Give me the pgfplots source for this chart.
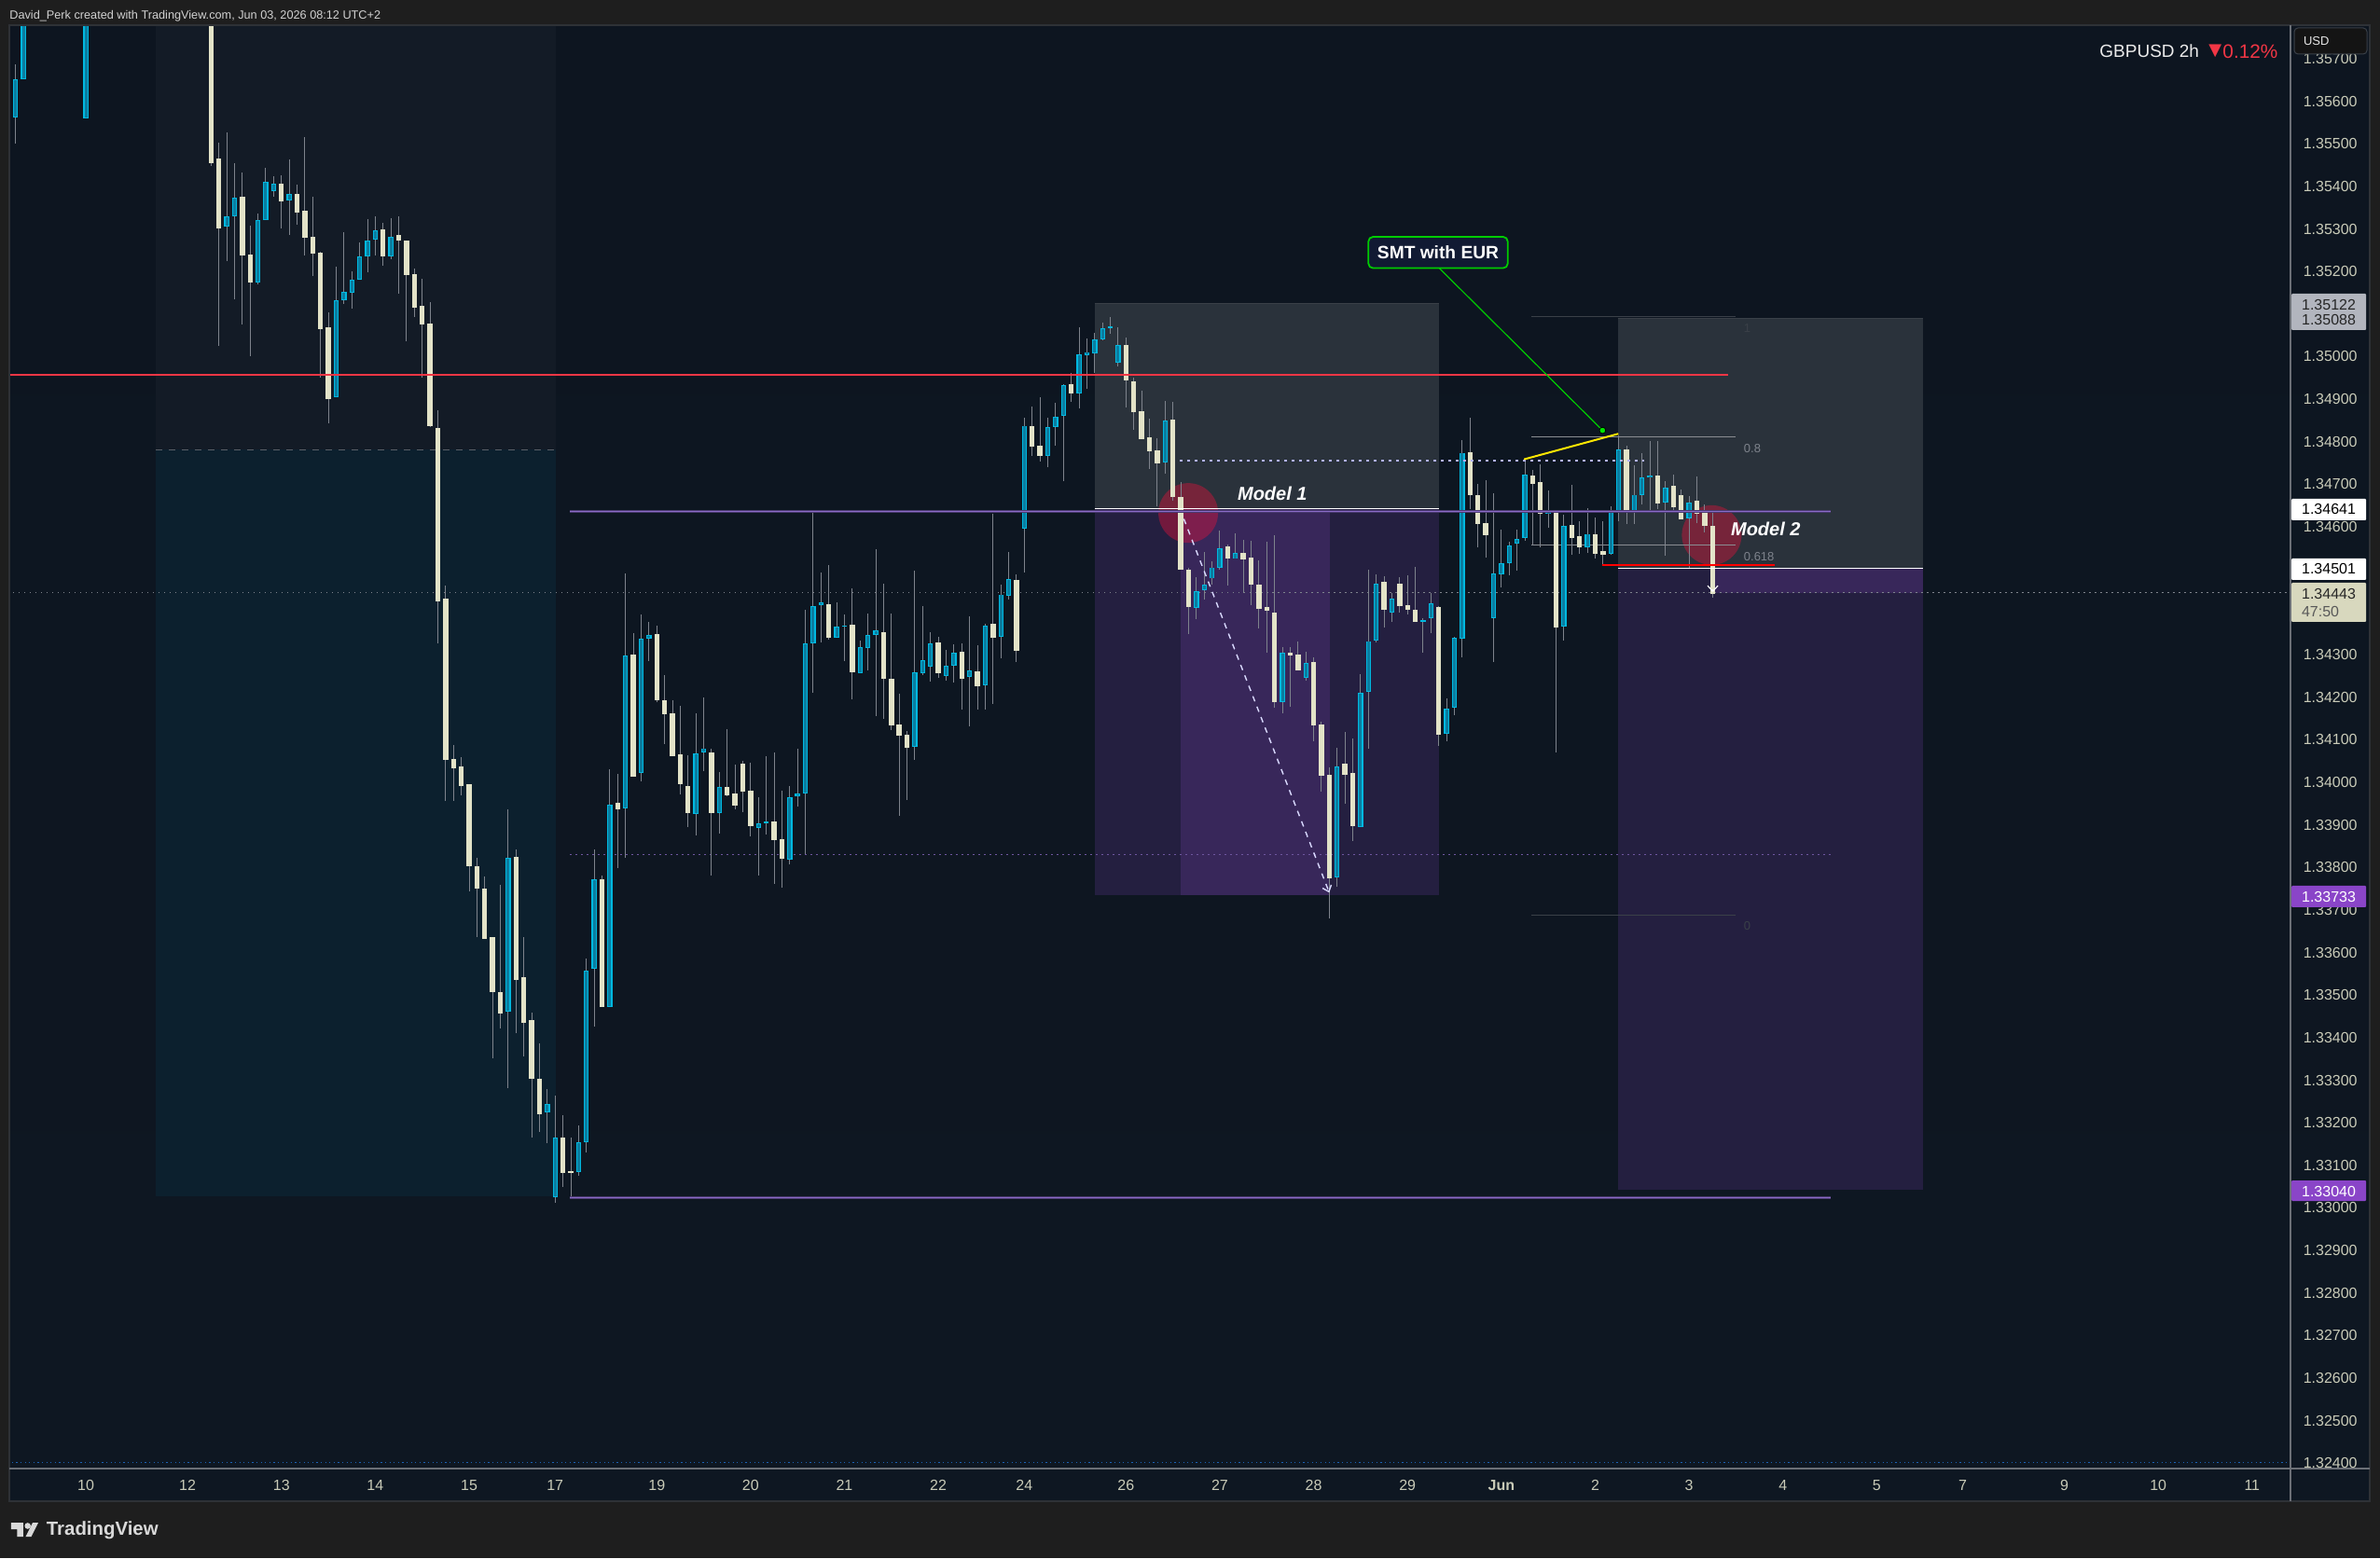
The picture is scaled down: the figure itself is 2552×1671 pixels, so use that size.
\documentclass[border=0pt]{standalone}
\usepackage{fontspec}
\setmainfont{Liberation Sans}
\newfontfamily\djv{DejaVu Sans}
\usepackage{pgfplots}
\usepackage{pgfplotstable}
\pgfplotsset{compat=1.18}
\usetikzlibrary{arrows.meta}
\definecolor{outer}{HTML}{1E1E1E}
\definecolor{bgtop}{HTML}{0D1520}
\definecolor{bgbot}{HTML}{0E1722}
\definecolor{tint}{HTML}{131B26}
\definecolor{teal}{HTML}{0C202E}
\definecolor{grayz}{HTML}{2A323B}
\definecolor{purpd}{HTML}{241F40}
\definecolor{purpb}{HTML}{38275A}
\definecolor{cream}{HTML}{E3E3C8}
\definecolor{cyanb}{HTML}{00B8E0}
\definecolor{cyanf}{HTML}{0A7DA0}
\definecolor{wick}{HTML}{7E838C}
\definecolor{lin}{HTML}{8A6BC7}
\definecolor{linh}{HTML}{4A3A70}
\definecolor{redl}{HTML}{F23645}
\definecolor{tick}{HTML}{C9CBB8}
\definecolor{axl}{HTML}{6B6F76}
\definecolor{tagp}{HTML}{8A45C8}
\definecolor{circ}{HTML}{E8113A}
\definecolor{fibdim}{HTML}{3A4048}
\definecolor{fibmid}{HTML}{8A8D92}
\definecolor{dash}{HTML}{5A6068}
\definecolor{smt}{HTML}{111A33}
\definecolor{smtg}{HTML}{00CC00}
\definecolor{framec}{HTML}{2E3136}
\pgfplotstableread{
i top bot high low
0 1.35560 1.35507 1.35560 1.35507
1 1.35651 1.35561 1.35685 1.35499
2 1.35900 1.35651 1.35950 1.35651
3 1.36000 1.35900 1.36000 1.35775
10 1.35900 1.35559 1.35950 1.35559
28 1.35329 1.35304 1.35527 1.35223
29 1.35373 1.35328 1.35453 1.35133
32 1.35321 1.35173 1.35334 1.35168
33 1.35408 1.35320 1.35442 1.35320
34 1.35404 1.35388 1.35422 1.35374
36 1.35380 1.35366 1.35461 1.35285
42 1.35132 1.34904 1.35210 1.34904
43 1.35150 1.35131 1.35291 1.35123
44 1.35180 1.35149 1.35199 1.35113
45 1.35235 1.35180 1.35269 1.35180
46 1.35272 1.35234 1.35321 1.35196
47 1.35296 1.35274 1.35328 1.35236
49 1.35281 1.35234 1.35323 1.35228
64 1.33822 1.33459 1.33935 1.33280
69 1.33243 1.33224 1.33279 1.33150
70 1.33164 1.33024 1.33262 1.33011
73 1.33153 1.33083 1.33192 1.33075
74 1.33557 1.33154 1.33586 1.33131
75 1.33771 1.33561 1.33843 1.33426
77 1.33948 1.33471 1.34030 1.33471
79 1.34297 1.33938 1.34490 1.33822
81 1.34335 1.34020 1.34393 1.34002
82 1.34345 1.34335 1.34375 1.34283
88 1.34068 1.33924 1.34160 1.33873
89 1.34079 1.34069 1.34198 1.34024
91 1.33987 1.33927 1.34022 1.33877
96 1.33903 1.33892 1.33964 1.33781
97 1.33907 1.33903 1.34060 1.33877
100 1.33963 1.33817 1.33991 1.33806
101 1.33973 1.33966 1.34079 1.33943
102 1.34325 1.33973 1.34403 1.33829
103 1.34413 1.34325 1.34635 1.34209
104 1.34422 1.34415 1.34493 1.34327
106 1.34365 1.34339 1.34421 1.34339
107 1.34368 1.34366 1.34392 1.34283
109 1.34315 1.34255 1.34333 1.34255
110 1.34346 1.34314 1.34395 1.34261
111 1.34357 1.34345 1.34546 1.34154
116 1.34258 1.34082 1.34495 1.34051
117 1.34287 1.34255 1.34414 1.34252
118 1.34326 1.34271 1.34351 1.34235
120 1.34274 1.34249 1.34309 1.34237
121 1.34304 1.34273 1.34322 1.34233
123 1.34260 1.34246 1.34388 1.34130
125 1.34366 1.34227 1.34371 1.34169
127 1.34440 1.34341 1.34463 1.34290
128 1.34477 1.34437 1.34539 1.34428
130 1.34837 1.34595 1.34855 1.34491
133 1.34834 1.34766 1.34855 1.34739
134 1.34858 1.34833 1.34890 1.34789
135 1.34933 1.34860 1.34936 1.34708
137 1.35005 1.34913 1.35068 1.34876
138 1.35010 1.35002 1.35043 1.34923
139 1.35040 1.35007 1.35056 1.34960
140 1.35067 1.35040 1.35078 1.35037
141 1.35069 1.35067 1.35091 1.35052
142 1.35027 1.34985 1.35068 1.34976
148 1.34849 1.34752 1.34894 1.34723
152 1.34448 1.34408 1.34481 1.34382
153 1.34464 1.34450 1.34539 1.34428
154 1.34503 1.34477 1.34518 1.34463
155 1.34549 1.34503 1.34590 1.34498
157 1.34539 1.34525 1.34585 1.34525
163 1.34304 1.34188 1.34316 1.34162
166 1.34280 1.34245 1.34307 1.34237
170 1.34037 1.33776 1.34080 1.33753
173 1.34208 1.33893 1.34253 1.33893
174 1.34330 1.34210 1.34498 1.34078
175 1.34466 1.34331 1.34486 1.34326
177 1.34431 1.34398 1.34442 1.34376
181 1.34381 1.34378 1.34386 1.34305
182 1.34420 1.34385 1.34444 1.34351
184 1.34173 1.34113 1.34195 1.34095
185 1.34339 1.34174 1.34340 1.34157
186 1.34773 1.34336 1.34804 1.34292
190 1.34490 1.34384 1.34679 1.34281
191 1.34514 1.34489 1.34592 1.34456
192 1.34556 1.34514 1.34563 1.34484
193 1.34571 1.34560 1.34592 1.34495
194 1.34723 1.34573 1.34755 1.34566
197 1.34635 1.34630 1.34684 1.34598
199 1.34600 1.34364 1.34626 1.34332
202 1.34582 1.34550 1.34642 1.34537
205 1.34639 1.34535 1.34647 1.34533
206 1.34782 1.34636 1.34815 1.34612
208 1.34674 1.34632 1.34743 1.34605
209 1.34716 1.34674 1.34774 1.34653
210 1.34720 1.34715 1.34802 1.34636
212 1.34692 1.34656 1.34706 1.34531
215 1.34657 1.34619 1.34673 1.34504
}\upbars
\pgfplotstableread{
i top bot high low
26 1.35950 1.35453 1.36000 1.35447
27 1.35464 1.35301 1.35500 1.35024
30 1.35374 1.35236 1.35431 1.35074
31 1.35240 1.35173 1.35308 1.35001
35 1.35405 1.35365 1.35426 1.35301
37 1.35382 1.35339 1.35402 1.35308
38 1.35341 1.35277 1.35514 1.35236
39 1.35280 1.35242 1.35374 1.35188
40 1.35244 1.35065 1.35244 1.34950
41 1.35067 1.34898 1.35104 1.34842
48 1.35297 1.35234 1.35312 1.35212
50 1.35286 1.35273 1.35328 1.35146
51 1.35273 1.35192 1.35273 1.35036
52 1.35194 1.35115 1.35207 1.35093
53 1.35118 1.35074 1.35183 1.34951
54 1.35076 1.34835 1.35126 1.34833
55 1.34831 1.34425 1.34873 1.34324
56 1.34431 1.34053 1.34461 1.33954
57 1.34053 1.34033 1.34085 1.33954
58 1.34036 1.33991 1.34057 1.33967
59 1.33994 1.33801 1.33994 1.33744
60 1.33803 1.33750 1.33822 1.33635
61 1.33750 1.33632 1.33777 1.33632
62 1.33635 1.33504 1.33635 1.33350
63 1.33504 1.33455 1.33757 1.33420
65 1.33822 1.33534 1.33840 1.33409
66 1.33541 1.33435 1.33636 1.33355
67 1.33441 1.33303 1.33458 1.33164
68 1.33302 1.33219 1.33386 1.33178
71 1.33165 1.33082 1.33216 1.33047
72 1.33084 1.33082 1.33165 1.33021
76 1.33772 1.33472 1.33779 1.33470
78 1.33950 1.33935 1.34018 1.33798
80 1.34299 1.34012 1.34348 1.34012
83 1.34347 1.34191 1.34368 1.34189
84 1.34193 1.34160 1.34250 1.34088
85 1.34160 1.34060 1.34191 1.34060
86 1.34064 1.33994 1.34180 1.33971
87 1.33991 1.33926 1.34061 1.33893
90 1.34068 1.33926 1.34077 1.33781
92 1.33989 1.33970 1.34123 1.33967
93 1.33971 1.33943 1.34040 1.33936
94 1.34042 1.33976 1.34050 1.33930
95 1.33978 1.33895 1.34046 1.33873
98 1.33908 1.33864 1.34068 1.33759
99 1.33864 1.33818 1.33978 1.33750
105 1.34417 1.34338 1.34509 1.34335
108 1.34368 1.34257 1.34454 1.34193
112 1.34351 1.34241 1.34465 1.34149
113 1.34241 1.34132 1.34395 1.34121
114 1.34134 1.34108 1.34206 1.33919
115 1.34110 1.34079 1.34119 1.33957
119 1.34327 1.34254 1.34340 1.34243
122 1.34305 1.34243 1.34325 1.34169
124 1.34261 1.34226 1.34322 1.34171
126 1.34371 1.34338 1.34629 1.34182
129 1.34474 1.34309 1.34487 1.34281
131 1.34837 1.34787 1.34883 1.34767
132 1.34789 1.34765 1.34905 1.34754
136 1.34934 1.34912 1.34960 1.34892
143 1.35027 1.34942 1.35045 1.34879
144 1.34941 1.34869 1.34949 1.34827
145 1.34870 1.34806 1.34920 1.34806
146 1.34810 1.34776 1.34853 1.34735
147 1.34779 1.34748 1.34807 1.34647
149 1.34850 1.34669 1.34894 1.34661
150 1.34669 1.34498 1.34704 1.34498
151 1.34498 1.34410 1.34504 1.34349
156 1.34553 1.34524 1.34557 1.34461
158 1.34539 1.34524 1.34568 1.34442
159 1.34526 1.34463 1.34565 1.34414
160 1.34464 1.34407 1.34520 1.34360
161 1.34412 1.34402 1.34563 1.34303
162 1.34397 1.34187 1.34579 1.34174
164 1.34305 1.34298 1.34316 1.34176
165 1.34300 1.34263 1.34331 1.34263
167 1.34281 1.34132 1.34292 1.34095
168 1.34134 1.34013 1.34141 1.33976
169 1.34018 1.33773 1.34035 1.33680
171 1.34042 1.34016 1.34117 1.33948
172 1.34020 1.33895 1.34102 1.33862
176 1.34469 1.34404 1.34484 1.34363
178 1.34467 1.34414 1.34481 1.34397
179 1.34417 1.34406 1.34486 1.34395
180 1.34406 1.34377 1.34506 1.34377
183 1.34412 1.34112 1.34412 1.34085
187 1.34774 1.34673 1.34855 1.34640
188 1.34675 1.34607 1.34701 1.34552
189 1.34609 1.34579 1.34710 1.34528
195 1.34721 1.34701 1.34734 1.34556
196 1.34704 1.34629 1.34747 1.34552
198 1.34633 1.34364 1.34633 1.34069
200 1.34603 1.34572 1.34699 1.34533
201 1.34576 1.34550 1.34612 1.34535
203 1.34583 1.34535 1.34622 1.34524
204 1.34544 1.34535 1.34614 1.34511
207 1.34780 1.34631 1.34789 1.34605
211 1.34719 1.34655 1.34800 1.34642
213 1.34695 1.34644 1.34723 1.34640
214 1.34675 1.34618 1.34686 1.34618
216 1.34660 1.34629 1.34717 1.34609
217 1.34633 1.34601 1.34651 1.34585
218 1.34601 1.34442 1.34638 1.34432
}\dnbars
\newcommand{\zone}[5]{\addplot[fill=#5,draw=none,forget plot] coordinates {(#1,#3)(#2,#3)(#2,#4)(#1,#4)};}
\tikzset{px/.style={x=0.5pt,y=-0.5pt,shift={(-10,-1575.3)}},
 tl/.style={inner sep=0pt,outer sep=0pt,text=tick,font=\fontsize{8}{8}\selectfont}}
\begin{document}
\begin{tikzpicture}
\begin{scope}[px]
\fill[outer] (0,0) rectangle (2552,1671);
\path[use as bounding box] (0,0) rectangle (2552,1671);
\shade[top color=bgtop,bottom color=bgbot] (10,27) rectangle (2541,1610);
\end{scope}
\begin{axis}[at={(0,0)},anchor=south west,scale only axis,
 width=1223.15pt,height=774.15pt,
 xmin=0.204,xmax=291.95,ymin=1.323853,ymax=1.35777,
 axis line style={draw=none},major tick length=0pt,
 tick style={draw=none},
 xtick={10,23,35,47,59,70,83,95,107,119,130,143,155,167,179,191,203,215,227,239,250,263,275,287},
 xticklabels={10,12,13,14,15,17,19,20,21,22,24,26,27,28,29,{\textbf{Jun}},2,3,4,5,7,9,10,11},
 xticklabel style={anchor=center,yshift=-8.85pt,text=tick,font=\fontsize{8}{8}\selectfont},
 ytick={1.324,1.325,1.326,1.327,1.328,1.329,1.33,1.331,1.332,1.333,1.334,1.335,1.336,1.337,1.338,1.339,1.34,1.341,1.342,1.343,1.344,1.345,1.346,1.347,1.348,1.349,1.35,1.351,1.352,1.353,1.354,1.355,1.356,1.357},
 ytick pos=right,yticklabel pos=right,scaled y ticks=false,
 yticklabel style={anchor=center,xshift=21.2pt,yshift=-0.4pt,text=tick,font=\fontsize{8}{8}\selectfont,
  /pgf/number format/.cd,fixed,fixed zerofill,precision=5,assume math mode=true},
 error bars/error mark=none]
% zones
\zone{18.98}{70.09}{1.34780}{1.358}{tint}
\zone{18.98}{70.09}{1.33026}{1.34780}{teal}
\zone{138.99}{183.0}{1.34641}{1.35122}{grayz}
\zone{138.99}{183.0}{1.33733}{1.34641}{purpd}
\zone{150.0}{169.04}{1.33733}{1.34641}{purpb}
\zone{205.9}{244.9}{1.34501}{1.35088}{grayz}
\zone{205.9}{244.9}{1.33040}{1.34501}{purpd}
\zone{218.06}{244.9}{1.34443}{1.34501}{purpb}
\addplot[draw=fibdim,line width=0.5pt,forget plot] coordinates {(138.99,1.35122)(183.0,1.35122)};
\addplot[draw=fibdim,line width=0.5pt,forget plot] coordinates {(205.9,1.35088)(244.9,1.35088)};
% dashed level at the session box
\addplot[draw=dash,line width=0.5pt,dash pattern=on 3.5pt off 3.5pt,forget plot] coordinates {(18.98,1.34780)(70.09,1.34780)};
% circles
\fill[circ,fill opacity=0.4] (axis cs:150.96,1.34631) circle (16pt);
\fill[circ,fill opacity=0.4] (axis cs:217.9,1.34579) circle (16pt);
% fib lines
\addplot[draw=fibdim,line width=0.5pt,forget plot] coordinates {(194.87,1.35093)(220.95,1.35093)};
\addplot[draw=fibdim,line width=0.5pt,forget plot] coordinates {(194.87,1.33686)(220.95,1.33686)};
\addplot[draw=fibmid,line width=0.6pt,forget plot] coordinates {(194.87,1.34810)(220.95,1.34810)};
\addplot[draw=fibmid,line width=0.6pt,forget plot] coordinates {(194.87,1.34556)(220.95,1.34556)};
% price and level dotted lines
\addplot[draw=wick,line width=0.5pt,dash pattern=on 0.6pt off 2.4pt,forget plot] coordinates {(0,1.34443)(292,1.34443)};
\addplot[draw=lin!80!black,line width=0.5pt,dash pattern=on 0.8pt off 2.2pt,forget plot] coordinates {(71.9,1.33828)(233.1,1.33828)};
\addplot[draw=cyan!40!blue,line width=0.6pt,dash pattern=on 0.6pt off 1.7pt,forget plot] coordinates {(0,1.32400)(292,1.32400)};
% wicks
\addplot[draw=none,mark=none,forget plot,error bars/.cd,y dir=both,y explicit,error bar style={line width=0.5pt,color=wick}]
 table[x=i,y expr=(\thisrow{high}+\thisrow{low})/2,y error expr=(\thisrow{high}-\thisrow{low})/2] {\upbars};
\addplot[draw=none,mark=none,forget plot,error bars/.cd,y dir=both,y explicit,error bar style={line width=0.5pt,color=wick}]
 table[x=i,y expr=(\thisrow{high}+\thisrow{low})/2,y error expr=(\thisrow{high}-\thisrow{low})/2] {\dnbars};
% bodies
\addplot[draw=none,mark=none,forget plot,error bars/.cd,y dir=both,y explicit,error bar style={line width=2.7pt,color=cream}]
 table[x=i,y expr=(\thisrow{top}+\thisrow{bot})/2,y error expr=(\thisrow{top}-\thisrow{bot})/2] {\dnbars};
\addplot[draw=none,mark=none,forget plot,error bars/.cd,y dir=both,y explicit,error bar style={line width=2.7pt,color=cyanb}]
 table[x=i,y expr=(\thisrow{top}+\thisrow{bot})/2,y error expr=(\thisrow{top}-\thisrow{bot})/2] {\upbars};
\addplot[draw=none,mark=none,forget plot,error bars/.cd,y dir=both,y explicit,error bar style={line width=1.5pt,color=cyanf}]
 table[x=i,y expr=(\thisrow{top}+\thisrow{bot})/2,y error expr={max((\thisrow{top}-\thisrow{bot})/2-0.00002,0)}] {\upbars};
% level lines above bars
\addplot[draw=redl,line width=1pt,forget plot] coordinates {(0,1.34956)(220.0,1.34956)};
\addplot[draw=white,line width=0.6pt,forget plot] coordinates {(138.99,1.34641)(183.0,1.34641)};
\addplot[draw=white,line width=0.6pt,forget plot] coordinates {(205.9,1.34501)(244.9,1.34501)};
\addplot[draw=linh,line width=1.4pt,forget plot] coordinates {(71.9,1.34635)(233.1,1.34635)};
\addplot[draw=linh,line width=1.4pt,forget plot] coordinates {(71.9,1.33022)(233.1,1.33022)};
\addplot[draw=lin,line width=0.7pt,forget plot] coordinates {(71.9,1.34635)(233.1,1.34635)};
\addplot[draw=lin,line width=0.7pt,forget plot] coordinates {(71.9,1.33022)(233.1,1.33022)};
\addplot[draw=red,line width=1.2pt,forget plot] coordinates {(203.9,1.34509)(226.0,1.34509)};
\addplot[draw=blue!30!white,line width=1.2pt,dash pattern=on 1.2pt off 2.8pt,forget plot] coordinates {(149.9,1.34754)(209.3,1.34754)};
\addplot[draw=yellow!90!orange,line width=1pt,forget plot] coordinates {(193.9,1.34757)(205.96,1.34817)};
\addplot[draw=smtg,line width=0.6pt,forget plot] coordinates {(183.07,1.35206)(203.94,1.34825)};
\addplot[only marks,mark=*,mark size=1.7pt,mark options={fill=green!90!black,draw=none},forget plot] coordinates {(203.94,1.34825)};
\addplot[draw=white!85!blue,line width=0.7pt,dash pattern=on 3pt off 3pt,-{Straight Barb[length=3pt,width=5pt]},forget plot] coordinates {(150.4,1.34617)(169.0,1.33739)};
\addplot[draw=white,line width=0.6pt,-{Straight Barb[length=3pt,width=5.5pt]},forget plot] coordinates {(218.04,1.34451)(218.04,1.34445)};
\end{axis}
\begin{scope}[px]
% frame and axis lines
\draw[line width=1pt,draw=framec] (10,27) rectangle (2541,1610);
\draw[line width=1pt,draw=axl] (2456.3,27) -- (2456.3,1610);
\draw[line width=1pt,draw=axl] (10,1575.3) -- (2541,1575.3);
% heading
\node[anchor=west,inner sep=0pt,text=white!82!black,font=\fontsize{6.35}{7}\selectfont] at (10,17) {David\_Perk created with TradingView.com, Jun 03, 2026 08:12 UTC+2};
\node[anchor=west,inner sep=0pt,text=white!92!black,font=\fontsize{9.5}{10}\selectfont] at (2251,55) {GBPUSD 2h};
\node[anchor=west,inner sep=0pt,text=redl,font=\djv\fontsize{9}{9}\selectfont] at (2368,55) {▼};
\node[anchor=west,inner sep=0pt,text=redl,font=\fontsize{10.4}{10}\selectfont] at (2383,55) {0.12\%};
% annotations
\node[inner sep=0pt,text=white,font=\fontsize{10}{10}\selectfont\bfseries\itshape] at (1364.3,529) {Model 1};
\node[inner sep=0pt,text=white,font=\fontsize{10}{10}\selectfont\bfseries\itshape] at (1893.3,567.3) {Model 2};
\node[draw=smtg,line width=0.9pt,fill=smt,rounded corners=2.5pt,minimum width=74.7pt,minimum height=16.8pt,inner sep=0pt,text=white,font=\fontsize{9.6}{10}\selectfont\bfseries] at (1542,270.8) {SMT with EUR};
\node[anchor=west,inner sep=0pt,text=wick,font=\fontsize{6.5}{7}\selectfont] at (1869.5,480.7) {0.8};
\node[anchor=west,inner sep=0pt,text=wick,font=\fontsize{6.5}{7}\selectfont] at (1869.5,596.7) {0.618};
\node[anchor=west,inner sep=0pt,text=fibdim,font=\fontsize{6.5}{7}\selectfont] at (1869.5,351.7) {1};
\node[anchor=west,inner sep=0pt,text=fibdim,font=\fontsize{6.5}{7}\selectfont] at (1869.5,993) {0};
% price tags
\fill[rounded corners=0.5pt,fill={rgb,255:red,178;green,181;blue,190}] (2457,315) rectangle (2537,354);
\node[tl,text=black!85] at (2497,327) {1.35122};
\node[tl,text=black!85] at (2497,343) {1.35088};
\fill[rounded corners=0.5pt,white] (2457,535) rectangle (2537,558);
\node[tl,text=black] at (2497,546.5) {1.34641};
\fill[rounded corners=0.5pt,white] (2457,599) rectangle (2537,622);
\node[tl,text=black] at (2497,610.5) {1.34501};
\fill[rounded corners=0.5pt,fill=cream!95!black] (2457,625) rectangle (2537,667);
\node[tl,text=black!85] at (2497,637) {1.34443};
\node[tl,text=black!65,anchor=west] at (2468,656) {47:50};
\fill[rounded corners=0.5pt,fill=tagp] (2457,950) rectangle (2537,973);
\node[tl,text=white] at (2497,961.5) {1.33733};
\fill[rounded corners=0.5pt,fill=tagp] (2457,1266) rectangle (2537,1288);
\node[tl,text=white] at (2497,1277.5) {1.33040};
\draw[line width=0.5pt,draw=fibdim,fill=black!92!white,rounded corners=2pt] (2460,30) rectangle (2538,58);
\node[tl,text=white!90!black,anchor=west,font=\fontsize{6.5}{7}\selectfont] at (2470,44.5) {USD};
% logo
\fill[white!85!black] (12,1633) -- (25,1633) -- (25,1648) -- (18.5,1648) -- (18.5,1640) -- (12,1640) -- cycle;
\fill[white!85!black] (29.7,1636.5) circle (3.3);
\fill[white!85!black] (41,1633) -- (35,1633) -- (27.5,1648) -- (33.5,1648) -- cycle;
\node[anchor=west,inner sep=0pt,text=white!85!black,font=\fontsize{10.2}{10}\selectfont\bfseries] at (49.5,1641) {TradingView};
\end{scope}
\end{tikzpicture}
\end{document}
